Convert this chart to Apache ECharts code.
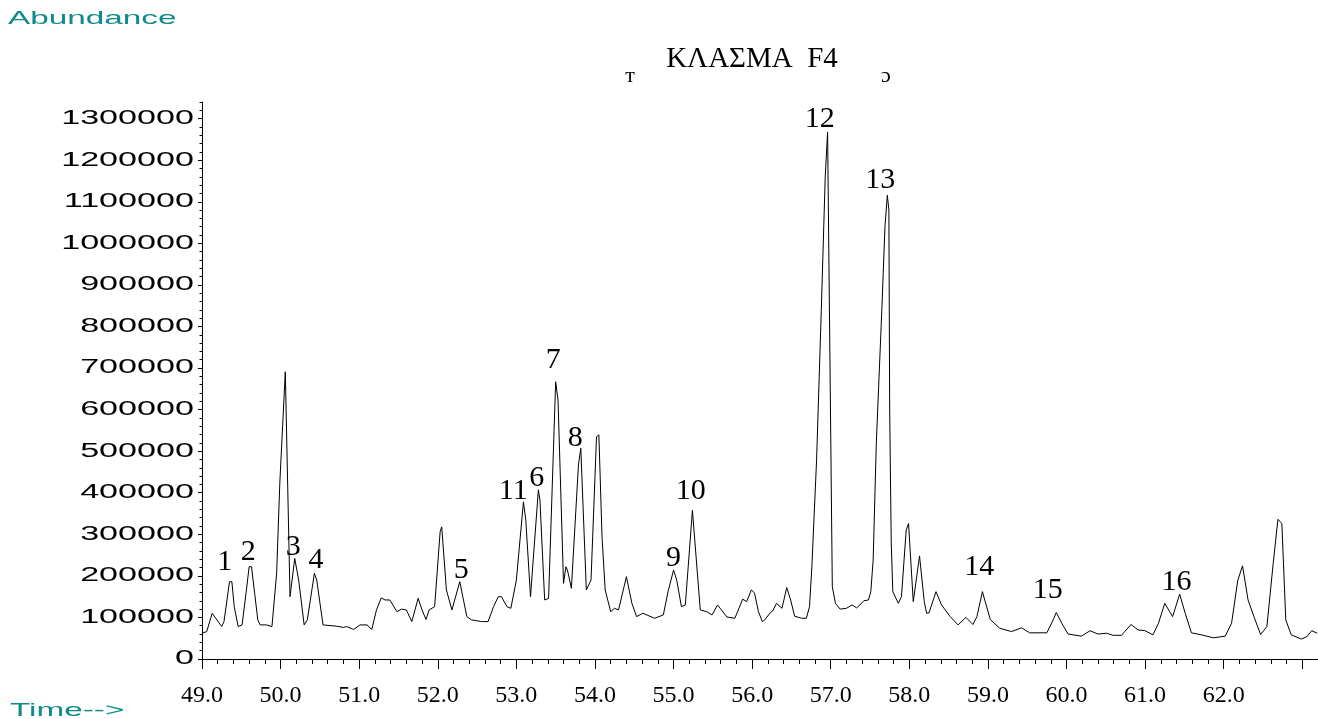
<!DOCTYPE html>
<html>
<head>
<meta charset="utf-8">
<script src="https://cdn.jsdelivr.net/npm/echarts@6/dist/echarts.min.js"></script>
<style>
html,body{margin:0;padding:0;background:#fff;}
#chart{width:1318px;height:719px;}
</style>
</head>
<body>
<div id="chart"></div>
<script>
// ---- data (retention time in min, abundance) ----
const times = [
  49.00,49.06,49.13,49.19,49.25,49.28,49.35,49.38,49.41,49.46,
  49.51,49.56,49.60,49.63,49.67,49.71,49.74,49.82,49.89,49.95,
  49.99,50.06,50.12,50.18,50.23,50.30,50.34,50.43,50.46,50.54,
  50.71,50.80,50.84,50.93,51.01,51.10,51.16,51.22,51.28,51.33,
  51.39,51.48,51.54,51.60,51.67,51.75,51.80,51.85,51.89,51.96,
  52.03,52.05,52.11,52.18,52.28,52.37,52.43,52.56,52.64,52.71,
  52.77,52.81,52.88,52.93,53.00,53.09,53.12,53.18,53.28,53.30,
  53.36,53.41,53.50,53.53,53.60,53.63,53.65,53.70,53.79,53.82,
  53.89,53.95,54.02,54.05,54.09,54.13,54.20,54.25,54.30,54.40,
  54.47,54.53,54.61,54.76,54.87,54.93,55.00,55.04,55.10,55.15,
  55.24,55.34,55.42,55.49,55.56,55.68,55.78,55.85,55.88,55.93,
  55.99,56.03,56.08,56.13,56.16,56.23,56.26,56.31,56.38,56.44,
  56.49,56.54,56.63,56.69,56.73,56.76,56.82,56.88,56.93,56.96,
  57.02,57.06,57.12,57.20,57.27,57.33,57.37,57.42,57.48,57.51,
  57.54,57.58,57.65,57.69,57.72,57.74,57.75,57.77,57.79,57.86,
  57.90,57.96,57.99,58.05,58.13,58.19,58.22,58.25,58.34,58.41,
  58.52,58.62,58.72,58.81,58.86,58.93,59.03,59.15,59.30,59.43,
  59.53,59.75,59.83,59.87,59.94,60.02,60.19,60.30,60.40,60.51,
  60.59,60.70,60.82,60.91,61.00,61.10,61.17,61.25,61.35,61.44,
  61.51,61.59,61.72,61.87,62.02,62.10,62.18,62.24,62.31,62.40,
  62.47,62.55,62.63,62.69,62.74,62.79,62.86,62.99,63.06,63.12,
  63.19
];
const abundance = [
  62000,66000,110000,94000,78000,90000,186000,186000,126000,78000,
  82000,158000,222000,222000,158000,94000,82000,82000,78000,207000,
  423000,691000,150000,242000,190000,82000,94000,206000,190000,82000,
  79000,76000,78000,71000,82000,82000,71000,118000,147000,142000,
  142000,114000,120000,118000,90000,146000,118000,95000,118000,126000,
  306000,318000,166000,118000,186000,102000,94000,90000,90000,126000,
  150000,150000,126000,122000,190000,378000,334000,150000,407000,382000,
  142000,146000,667000,623000,182000,222000,214000,170000,467000,507000,
  166000,190000,535000,539000,294000,166000,114000,122000,118000,198000,
  134000,102000,110000,98000,106000,162000,214000,190000,126000,130000,
  358000,118000,114000,106000,130000,101000,98000,130000,144000,138000,
  166000,159000,114000,90000,94000,111000,115000,134000,122000,172000,
  142000,103000,98000,98000,126000,222000,479000,840000,1160000,1268000,
  174000,134000,120000,122000,130000,123000,130000,140000,142000,162000,
  238000,520000,840000,1040000,1116000,1080000,599000,279000,162000,134000,
  150000,310000,326000,138000,248000,138000,110000,111000,162000,130000,
  102000,82000,100000,83000,102000,162000,95000,74000,66000,75000,
  63000,63000,94000,112000,86000,60000,55000,68000,60000,62000,
  57000,57000,83000,70000,68000,58000,86000,134000,102000,156000,
  110000,63000,58000,51000,55000,86000,190000,224000,142000,94000,
  59000,78000,230000,336000,326000,94000,58000,48000,54000,68000,
  62000
];

// peak annotations (name, time, abundance where the number is centred)
const peakNames      = ['1','2','3','4','5','11','6','7','8','9','10','12','13','14','15','16'];
const peakLabelTimes = [49.29,49.59,50.16,50.45,52.30,52.96,53.26,53.47,53.75,55.00,55.22,56.86,57.63,58.89,59.76,61.40];
const peakLabelAbund = [232000,256000,268000,237000,213000,405000,434000,718000,532000,242000,405000,1299000,1153000,222000,165000,184000];

// axes
const xMin = 49, xMax = 63.2, xMinorStep = 0.2;
const xMajorTicks = [49,50,51,52,53,54,55,56,57,58,59,60,61,62,63];
const xTickLabels = [49,50,51,52,53,54,55,56,57,58,59,60,61,62];
const yMin = 0, yMax = 1340000, yMinorStep = 20000;
const yTickLabels = [0,100000,200000,300000,400000,500000,600000,700000,800000,900000,1000000,1100000,1200000,1300000];

const titleText = 'ΚΛΑΣΜΑ  F4';
const yName = 'Abundance';
const xName = 'Time-->';

// ---- derived tick lists ----
const xMinorTicks = [];
for (let i = 0; xMin + i * xMinorStep <= xMax + 1e-9; i++) xMinorTicks.push(Math.round((xMin + i * xMinorStep) * 10) / 10);
const yMinorTicks = [];
for (let v = yMin; v <= yMax; v += yMinorStep) yMinorTicks.push(v);

// the reference's sans-serif texts are horizontally stretched; emulate for the y tick labels
const WIDE = 1.75;
(function () {
  const proto = CanvasRenderingContext2D.prototype;
  const orig = proto.fillText;
  proto.fillText = function (text, x, y, maxWidth) {
    if (this.font && this.font.indexOf('WideSans') >= 0) {
      this.save();
      this.translate(x, y);
      this.scale(WIDE, 1);
      orig.call(this, text, 0, 0);
      this.restore();
      return;
    }
    return orig.apply(this, arguments);
  };
})();

const chart = echarts.init(document.getElementById('chart'), null, { renderer: 'canvas' });

const teal = '#108a8a';
const option = {
  backgroundColor: '#ffffff',
  animation: false,
  title: {
    text: titleText,
    left: 752,
    top: 45,
    padding: 0,
    textAlign: 'center',
    textStyle: { fontFamily: 'Liberation Serif', fontSize: 29, fontWeight: 'normal', color: '#000', lineHeight: 29 }
  },
  grid: { left: 202, right: 0, top: 102, bottom: 60, containLabel: false, outerBoundsMode: 'none' },
  xAxis: [
    {
      type: 'value', min: xMin, max: xMax, interval: 1, position: 'bottom',
      axisLine: { show: true, onZero: false, lineStyle: { color: '#000', width: 1 } },
      axisTick: { show: true, length: 10, customValues: xMajorTicks, lineStyle: { color: '#000', width: 1 } },
      axisLabel: { show: true, customValues: xTickLabels, formatter: v => v.toFixed(1), margin: 25,
                   fontFamily: 'Liberation Serif', fontSize: 24, color: '#000' },
      splitLine: { show: false }
    },
    {
      type: 'value', min: xMin, max: xMax, interval: 0.2, position: 'bottom',
      axisLine: { show: false, onZero: false },
      axisTick: { show: true, length: 5, customValues: xMinorTicks, lineStyle: { color: '#000', width: 1 } },
      axisLabel: { show: false },
      splitLine: { show: false }
    }
  ],
  yAxis: [
    {
      type: 'value', min: yMin, max: yMax, interval: 100000, position: 'left',
      axisLine: { show: true, onZero: false, lineStyle: { color: '#000', width: 1 } },
      axisTick: { show: true, length: 4, customValues: yTickLabels, lineStyle: { color: '#000', width: 1 } },
      axisLabel: { show: true, customValues: yTickLabels, formatter: v => String(v), margin: 8,
                   fontFamily: "'Liberation Sans', WideSans", fontSize: 19.5, color: '#000' },
      splitLine: { show: false }
    },
    {
      type: 'value', min: yMin, max: yMax, interval: 20000, position: 'left',
      axisLine: { show: false, onZero: false },
      axisTick: { show: true, length: 2.5, customValues: yMinorTicks, lineStyle: { color: '#000', width: 1 } },
      axisLabel: { show: false },
      splitLine: { show: false }
    }
  ],
  series: [
    {
      type: 'line', name: 'TIC', xAxisIndex: 0, yAxisIndex: 0,
      data: times.map((t, i) => [t, abundance[i]]),
      showSymbol: false, symbol: 'none', smooth: false,
      lineStyle: { color: '#000', width: 1 },
      silent: true, z: 2
    },
    {
      type: 'scatter', name: 'peaks', xAxisIndex: 0, yAxisIndex: 0,
      data: peakNames.map((n, i) => ({ name: n, value: [peakLabelTimes[i], peakLabelAbund[i]] })),
      symbolSize: 1, itemStyle: { color: '#000', opacity: 0 },
      label: { show: true, position: 'inside', formatter: '{b}', fontFamily: 'Liberation Serif',
               fontSize: 30, color: '#000000', opacity: 1, textBorderWidth: 0, textBorderColor: 'transparent' },
      emphasis: { disabled: true },
      silent: true, z: 3
    }
  ],
  graphic: [
    { type: 'text', x: 8, y: 18.6, scaleX: 1.8, silent: true,
      style: { text: yName, fontFamily: 'Liberation Sans', fontSize: 18.5, fill: teal, align: 'left', verticalAlign: 'middle' } },
    { type: 'text', x: 10, y: 710.5, scaleX: 1.8, silent: true,
      style: { text: xName, fontFamily: 'Liberation Sans', fontSize: 18.5, fill: teal, align: 'left', verticalAlign: 'middle' } },
    { type: 'text', x: 630, y: 76, silent: true,
      style: { text: 'т', fontFamily: 'Liberation Serif', fontSize: 22, fill: '#000', align: 'center', verticalAlign: 'middle' } },
    { type: 'text', x: 886, y: 76, silent: true,
      style: { text: 'ɔ', fontFamily: 'Liberation Serif', fontSize: 22, fill: '#000', align: 'center', verticalAlign: 'middle' } }
  ]
};
chart.setOption(option);
</script>
</body>
</html>
